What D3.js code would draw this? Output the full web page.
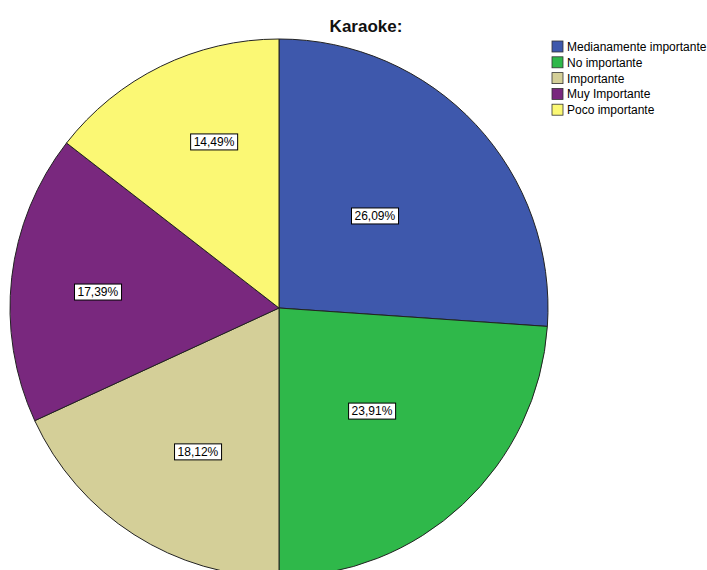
<!DOCTYPE html>
<html>
<head>
<meta charset="utf-8">
<script src="https://cdn.jsdelivr.net/npm/d3@7"></script>
<style>
  html, body { margin: 0; padding: 0; background: #fff; }
  svg { display: block; }
</style>
</head>
<body>
<svg id="chart" width="707" height="570"></svg>
<script>
// Karaoke: share of responses per importance level
const categories = ["Medianamente importante", "No importante", "Importante", "Muy Importante", "Poco importante"];
const values = [26.09, 23.91, 18.12, 17.39, 14.49];
const colors = ["#3e58ac", "#2fb84a", "#d4cf98", "#79287e", "#fbf874"];

// Label placement per slice: radial fraction of the radius and an angle nudge (degrees)
const labelRadius = [0.494, 0.516, 0.614, 0.676, 0.663];
const labelNudge = [-0.8, 1.0, -3.2, -1.5, 4.7];

const data = categories.map((c, i) => ({ category: c, value: values[i], color: colors[i], i }));

const svg = d3.select("#chart");
const cx = 279, cy = 308, radius = 269;
const font = "Arial, 'Liberation Sans', sans-serif";

const pie = d3.pie().sort(null).value(d => d.value);
const arc = d3.arc().innerRadius(0).outerRadius(radius);

const g = svg.append("g").attr("transform", `translate(${cx},${cy})`);
const arcs = pie(data);

g.selectAll("path.slice")
  .data(arcs)
  .join("path")
  .attr("class", "slice")
  .attr("d", arc)
  .attr("fill", d => d.data.color)
  .attr("stroke", "#222")
  .attr("stroke-width", 1);

const fmt = v => v.toFixed(2).replace(".", ",") + "%";

function labelPos(d) {
  const a = (d.startAngle + d.endAngle) / 2 + labelNudge[d.data.i] * Math.PI / 180;
  const r = radius * labelRadius[d.data.i];
  return [r * Math.sin(a), -r * Math.cos(a)];
}

const labels = g.selectAll("g.label")
  .data(arcs)
  .join("g")
  .attr("class", "label")
  .attr("transform", d => `translate(${labelPos(d)})`);

labels.each(function(d) {
  const lg = d3.select(this);
  const t = lg.append("text")
    .attr("text-anchor", "middle")
    .attr("dominant-baseline", "central")
    .attr("font-family", font)
    .attr("font-size", 12)
    .attr("fill", "#000")
    .text(fmt(d.data.value));
  const bb = t.node().getBBox();
  lg.insert("rect", "text")
    .attr("x", bb.x - 3)
    .attr("y", -8)
    .attr("width", bb.width + 6)
    .attr("height", 16)
    .attr("fill", "#fff")
    .attr("stroke", "#000")
    .attr("stroke-width", 1);
});

// Title
svg.append("text")
  .attr("x", 366)
  .attr("y", 32)
  .attr("text-anchor", "middle")
  .attr("font-family", font)
  .attr("font-size", 17)
  .attr("font-weight", "bold")
  .attr("fill", "#111")
  .text("Karaoke:");

// Legend
const legend = svg.append("g").attr("transform", "translate(552,41)");
const rows = legend.selectAll("g")
  .data(data)
  .join("g")
  .attr("transform", (d, i) => `translate(0,${i * 15.8})`);
rows.append("rect")
  .attr("width", 11)
  .attr("height", 11)
  .attr("fill", d => d.color)
  .attr("stroke", "#333")
  .attr("stroke-width", 0.8);
rows.append("text")
  .attr("x", 15)
  .attr("y", 6)
  .attr("dominant-baseline", "central")
  .attr("font-family", font)
  .attr("font-size", 12)
  .attr("fill", "#000")
  .text(d => d.category);
</script>
</body>
</html>
